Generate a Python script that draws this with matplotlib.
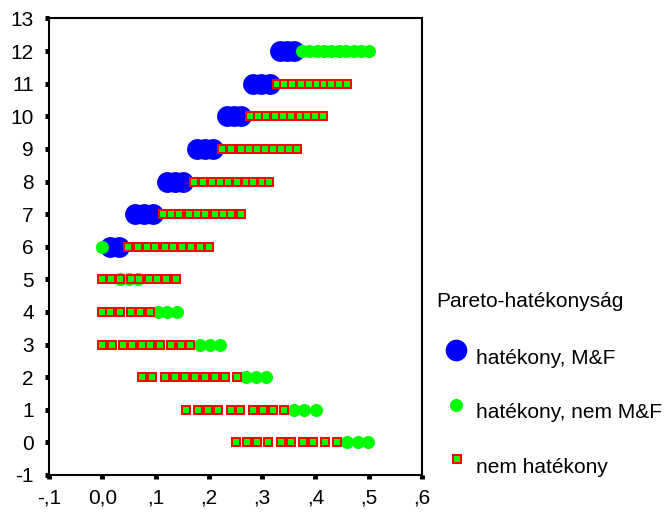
import matplotlib
matplotlib.use("Agg")
import matplotlib.pyplot as plt
from matplotlib.lines import Line2D

plt.rcParams['font.family'] = ['Liberation Sans', 'DejaVu Sans']

# Pareto efficiency classes, x positions listed per row (row index = y value)
efficient_mf = {
    6: [0.015, 0.032],
    7: [0.062, 0.078, 0.095],
    8: [0.121, 0.136, 0.151],
    9: [0.178, 0.193, 0.208],
    10: [0.234, 0.247, 0.260],
    11: [0.283, 0.298, 0.314],
    12: [0.333, 0.346, 0.359],
}

efficient_not_mf = {
    0: [0.459, 0.479, 0.499],
    1: [0.360, 0.378, 0.401],
    2: [0.269, 0.288, 0.307],
    3: [0.183, 0.202, 0.221],
    4: [0.105, 0.121, 0.140],
    5: [0.033, 0.050, 0.067],
    6: [0.000],
    12: [0.374, 0.388, 0.402, 0.416, 0.430, 0.444, 0.458, 0.472, 0.486, 0.500],
}

not_efficient = {
    0: [0.251, 0.271, 0.291, 0.311, 0.335, 0.354, 0.376, 0.395, 0.417, 0.440],
    1: [0.158, 0.180, 0.198, 0.217, 0.241, 0.259, 0.282, 0.301, 0.320, 0.341],
    2: [0.075, 0.094, 0.117, 0.136, 0.155, 0.174, 0.192, 0.211, 0.230, 0.252],
    3: [0.000, 0.019, 0.038, 0.056, 0.075, 0.090, 0.109, 0.128, 0.147, 0.165],
    4: [0.000, 0.015, 0.034, 0.053, 0.071, 0.090],
    5: [0.000, 0.016, 0.034, 0.053, 0.068, 0.087, 0.103, 0.120, 0.139],
    6: [0.048, 0.067, 0.083, 0.098, 0.117, 0.133, 0.150, 0.166, 0.183, 0.200],
    7: [0.113, 0.128, 0.144, 0.162, 0.178, 0.192, 0.211, 0.227, 0.242, 0.260],
    8: [0.173, 0.189, 0.205, 0.220, 0.235, 0.253, 0.269, 0.283, 0.299, 0.313],
    9: [0.225, 0.241, 0.260, 0.275, 0.291, 0.306, 0.321, 0.336, 0.351, 0.366],
    10: [0.277, 0.292, 0.308, 0.324, 0.339, 0.355, 0.371, 0.385, 0.400, 0.415],
    11: [0.327, 0.341, 0.356, 0.372, 0.388, 0.402, 0.416, 0.430, 0.445, 0.460],
}

x_ticks = [-0.1, 0.0, 0.1, 0.2, 0.3, 0.4, 0.5, 0.6]
x_tick_labels = ["-,1", "0,0", ",1", ",2", ",3", ",4", ",5", ",6"]
y_ticks = list(range(-1, 14))
y_tick_labels = [str(v) for v in y_ticks]

legend_title = "Pareto-hatékonyság"
legend_labels = ["hatékony, M&F", "hatékony, nem M&F", "nem hatékony"]

BLUE = "#0000FF"
GREEN = "#00FF00"
RED = "#FF0000"
FS = 15

fig = plt.figure(figsize=(6.67, 5.12), dpi=100)
ax = fig.add_axes([0.0735, 0.0723, 0.5592, 0.8916])


def flatten(groups):
    xs, ys = [], []
    for row, vals in groups.items():
        xs.extend(vals)
        ys.extend([row] * len(vals))
    return xs, ys


bx, by = flatten(efficient_mf)
gx, gy = flatten(efficient_not_mf)
sx, sy = flatten(not_efficient)

blue_style = dict(marker="o", ms=15, color=BLUE, mec=BLUE, mew=0, linestyle="none")
green_style = dict(marker="o", ms=9.4, color=GREEN, mec=GREEN, mew=0, linestyle="none")
square_style = dict(marker="s", ms=5.3, mfc=GREEN, mec=RED, mew=1.45, linestyle="none")

ax.plot(bx, by, zorder=2, **blue_style)
ax.plot(gx, gy, zorder=3, **green_style)
ax.plot(sx, sy, zorder=4, **square_style)

ax.set_xlim(-0.1, 0.6)
ax.set_ylim(-1, 13)
ax.set_xticks(x_ticks)
ax.set_xticklabels(x_tick_labels)
ax.set_yticks(y_ticks)
ax.set_yticklabels(y_tick_labels)

for sp in ax.spines.values():
    sp.set_linewidth(1.5)
    sp.set_color("black")

ax.tick_params(axis="both", direction="out", length=3, width=3.6,
               labelsize=FS, colors="black")
ax.tick_params(axis="y", pad=8)
ax.tick_params(axis="x", pad=7)

# legend drawn in figure coordinates
W, H = 667.0, 512.0
fig.text(436.7 / W, 1 - 306.7 / H, legend_title, fontsize=FS, va="baseline", ha="left")
marker_pos = [(456 / W, 1 - 350 / H), (456 / W, 1 - 405 / H), (456.7 / W, 1 - 459.3 / H)]
text_base = [1 - 364.3 / H, 1 - 418.3 / H, 1 - 473.3 / H]
styles = [dict(blue_style, ms=15.6), green_style, dict(square_style, ms=5.8)]
for (mx, my), ty, lab, st in zip(marker_pos, text_base, legend_labels, styles):
    fig.add_artist(Line2D([mx], [my], transform=fig.transFigure, **st))
    fig.text(476 / W, ty, lab, fontsize=FS, va="baseline", ha="left")

fig.savefig("out.png", dpi=100)
